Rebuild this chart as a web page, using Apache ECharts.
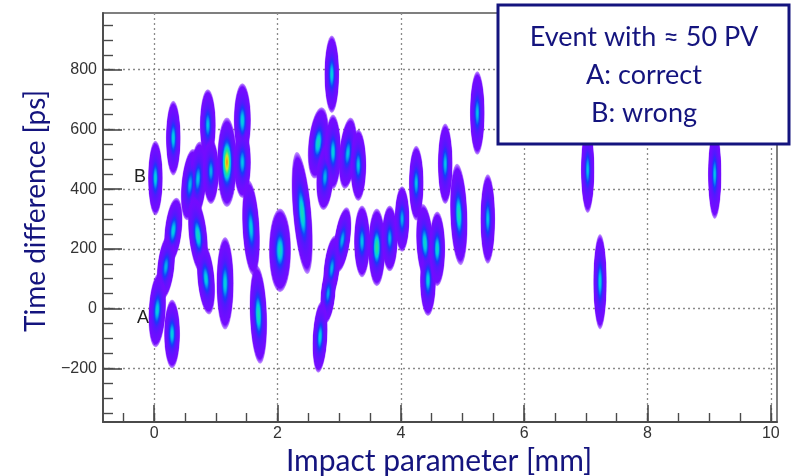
<!DOCTYPE html>
<html>
<head>
<meta charset="utf-8">
<script src="https://cdn.jsdelivr.net/npm/echarts@6/dist/echarts.min.js"></script>
<style>
  html, body { margin: 0; padding: 0; background: #fff; }
  #chart { width: 793px; height: 476px; }
</style>
</head>
<body>
<div id="chart"></div>
<script>
// Reconstructed vertex clusters: centre (impact parameter in mm, time difference in ps),
// half extent of each cluster, relative peak density and a small tilt in degrees.
const clusterX     = [0.02, 0.31, 0.31, 0.19, 0.05, 0.29, 0.58, 0.71, 0.87, 0.92, 1.18, 1.43, 1.43, 0.71, 0.84, 1.15, 1.57, 1.69, 2.04, 2.40, 2.88, 2.66, 2.77, 2.90, 3.14, 3.31, 3.05, 2.88, 2.82, 2.69, 3.37, 3.61, 3.82, 4.02, 4.25, 4.72, 5.24, 4.39, 4.44, 4.59, 4.94, 5.41, 7.03, 7.23, 9.09];
const clusterY     = [437, 571, 262, 140, -5, -85, 415, 435, 615, 460, 490, 630, 490, 245, 100, 85, 270, -20, 195, 320, 785, 555, 440, 525, 520, 480, 230, 135, 50, -95, 225, 205, 235, 300, 420, 485, 655, 220, 95, 200, 315, 300, 465, 90, 450];
const clusterHalfW = [0.12, 0.12, 0.14, 0.14, 0.14, 0.13, 0.14, 0.14, 0.13, 0.13, 0.16, 0.14, 0.14, 0.15, 0.14, 0.14, 0.14, 0.14, 0.18, 0.15, 0.12, 0.16, 0.14, 0.13, 0.14, 0.13, 0.13, 0.13, 0.12, 0.12, 0.13, 0.14, 0.13, 0.12, 0.12, 0.12, 0.12, 0.14, 0.13, 0.13, 0.14, 0.12, 0.11, 0.11, 0.11];
const clusterHalfH = [125, 125, 110, 110, 125, 115, 120, 125, 120, 110, 150, 125, 120, 130, 120, 155, 160, 165, 140, 205, 130, 120, 110, 125, 120, 120, 110, 110, 100, 120, 120, 130, 110, 110, 125, 135, 140, 130, 120, 125, 170, 150, 145, 160, 150];
const clusterPeak  = [0.55, 0.55, 0.55, 0.50, 0.55, 0.55, 0.50, 0.52, 0.52, 0.50, 0.90, 0.55, 0.52, 0.60, 0.55, 0.55, 0.55, 0.62, 0.60, 0.62, 0.55, 0.60, 0.50, 0.55, 0.52, 0.52, 0.50, 0.50, 0.48, 0.55, 0.52, 0.68, 0.50, 0.50, 0.52, 0.52, 0.52, 0.58, 0.55, 0.58, 0.62, 0.52, 0.52, 0.55, 0.52];
const clusterTilt  = [0, 0, 6, 6, 3, 0, 5, 3, 0, 0, 0, 0, 0, -6, -5, 0, -3, -2, 0, -5, 0, 6, 3, 0, 5, 0, 8, 6, 5, 3, 0, 0, 0, 0, 0, 0, 0, -3, 0, 0, -2, 0, 0, 0, 0];

// Axis ticks and labels
const xMajorTicks = [0, 2, 4, 6, 8, 10];
const xMinorTicks = [-0.5, 0, 0.5, 1, 1.5, 2, 2.5, 3, 3.5, 4, 4.5, 5, 5.5, 6, 6.5, 7, 7.5, 8, 8.5, 9, 9.5, 10];
const yMajorTicks = [-200, 0, 200, 400, 600, 800];
const yMinorTicks = [-350, -300, -250, -200, -150, -100, -50, 0, 50, 100, 150, 200, 250, 300, 350, 400, 450, 500, 550, 600, 650, 700, 750, 800, 850, 900, 950];

const xLabelTitle = 'Impact parameter [mm]';
const yLabelTitle = 'Time difference [ps]';
const boxLines = ['Event with \u2248 50 PV', 'A: correct', 'B: wrong'];

// Rainbow density palette (violet -> blue -> cyan -> green -> yellow -> red)
const palette = [
  [0.00, [118, 10, 255]],
  [0.22, [80, 25, 255]],
  [0.36, [20, 60, 250]],
  [0.52, [0, 200, 235]],
  [0.70, [40, 230, 140]],
  [0.84, [230, 230, 30]],
  [1.00, [255, 30, 0]]
];
function paletteColor(v, alpha) {
  v = Math.max(0, Math.min(1, v));
  for (let k = 1; k < palette.length; k++) {
    if (v <= palette[k][0]) {
      const a = palette[k - 1], b = palette[k];
      const f = (v - a[0]) / (b[0] - a[0]);
      const c = a[1].map((x, j) => Math.round(x + (b[1][j] - x) * f));
      return 'rgba(' + c.join(',') + ',' + alpha + ')';
    }
  }
  return 'rgba(255,30,0,' + alpha + ')';
}

// Radial fill of one cluster; pass 1 only keeps the dense core so that
// cores stay visible where neighbouring clusters overlap.
function clusterFill(peak, pass) {
  const stops = [];
  for (let s = 0; s <= 20; s++) {
    const t = s / 20;
    const v = peak * Math.exp(-4.2 * t * t);
    let alpha = 1;
    if (pass === 1) alpha = t < 0.35 ? 1 : Math.max(0, 1 - (t - 0.35) / 0.25);
    else if (t > 0.9) alpha = 1 - (t - 0.9) * 6;
    stops.push({ offset: t, color: paletteColor(v, alpha) });
  }
  return new echarts.graphic.RadialGradient(0.5, 0.5, 0.5, stops);
}

function makeRenderer(pass) {
  return function (params, api) {
    const c = api.coord([api.value(0), api.value(1)]);
    const s = api.size([api.value(2), api.value(3)]);
    return {
      type: 'circle',
      shape: { cx: 0, cy: 0, r: 10 },
      x: c[0], y: c[1],
      scaleX: s[0] / 10, scaleY: s[1] / 10,
      rotation: -api.value(5) * Math.PI / 180,
      style: { fill: clusterFill(api.value(4), pass) },
      silent: true
    };
  };
}

const clusterData = clusterX.map((x, i) => [x, clusterY[i], clusterHalfW[i], clusterHalfH[i], clusterPeak[i], clusterTilt[i]]);

const X_MIN = -0.83, X_MAX = 10.1, Y_MIN = -380, Y_MAX = 990;
const axisColor = '#4a4a4a';
const tickFont = { fontFamily: 'Liberation Sans, Arial, sans-serif', fontSize: 16, color: '#333' };
const navy = '#14147e';

const chart = echarts.init(document.getElementById('chart'), null, { renderer: 'canvas' });
chart.setOption({
  animation: false,
  backgroundColor: '#fff',
  grid: { left: 103, right: 16, top: 13, bottom: 54, show: true, borderColor: '#555', borderWidth: 1.5, backgroundColor: 'transparent' },
  xAxis: [
    {
      type: 'value', min: X_MIN, max: X_MAX, splitNumber: 5, position: 'bottom',
      axisLine: { show: true, onZero: false, lineStyle: { color: axisColor, width: 1.8 } },
      axisTick: { show: true, inside: true, length: 17, customValues: xMajorTicks, lineStyle: { color: axisColor, width: 1.6 } },
      axisLabel: Object.assign({ show: true, margin: 4, customValues: xMajorTicks }, tickFont),
      splitLine: { show: true, lineStyle: { color: '#8a8a8a', width: 1.3, type: [2, 3] } }
    },
    {
      type: 'value', min: X_MIN, max: X_MAX, position: 'bottom',
      axisLine: { show: false, onZero: false },
      axisTick: { show: true, inside: true, length: 9, customValues: xMinorTicks, lineStyle: { color: axisColor, width: 1.4 } },
      axisLabel: { show: false },
      splitLine: { show: false }
    }
  ],
  yAxis: [
    {
      type: 'value', min: Y_MIN, max: Y_MAX, splitNumber: 7, position: 'left',
      axisLine: { show: true, onZero: false, lineStyle: { color: axisColor, width: 1.8 } },
      axisTick: { show: true, inside: true, length: 19, customValues: yMajorTicks, lineStyle: { color: axisColor, width: 1.6 } },
      axisLabel: Object.assign({ show: true, margin: 6, customValues: yMajorTicks, formatter: v => (v < 0 ? '\u2212' + Math.abs(v) : String(v)) }, tickFont),
      splitLine: { show: true, lineStyle: { color: '#8a8a8a', width: 1.3, type: [2, 3] } }
    },
    {
      type: 'value', min: Y_MIN, max: Y_MAX, position: 'left',
      axisLine: { show: false, onZero: false },
      axisTick: { show: true, inside: true, length: 10, customValues: yMinorTicks, lineStyle: { color: axisColor, width: 1.4 } },
      axisLabel: { show: false },
      splitLine: { show: false }
    }
  ],
  series: [0, 1].map(pass => ({
    type: 'custom',
    xAxisIndex: 0, yAxisIndex: 0,
    renderItem: makeRenderer(pass),
    data: clusterData,
    encode: { x: 0, y: 1 },
    clip: true,
    z: 2 + pass,
    silent: true
  })),
  graphic: [
    { type: 'text', x: 140, y: 177, style: { text: 'B', font: '18px Liberation Sans, Arial', fill: '#222', align: 'center', verticalAlign: 'middle' }, z: 50 },
    { type: 'text', x: 143, y: 318, style: { text: 'A', font: '18px Liberation Sans, Arial', fill: '#222', align: 'center', verticalAlign: 'middle' }, z: 50 },
    { type: 'text', x: 439, y: 461, style: { text: xLabelTitle, font: '30px Lato, sans-serif', fill: navy, align: 'center', verticalAlign: 'middle' }, z: 50 },
    { type: 'text', x: 36, y: 211, rotation: Math.PI / 2, style: { text: yLabelTitle, font: '28px Lato, sans-serif', fill: navy, align: 'center', verticalAlign: 'middle' }, z: 50 },
    { type: 'rect', shape: { x: 498, y: 5, width: 291, height: 139 }, style: { fill: '#fff', stroke: navy, lineWidth: 3 }, z: 60 },
    { type: 'text', x: 644, y: 37, style: { text: boxLines[0], font: '27px Lato, sans-serif', fill: navy, align: 'center', verticalAlign: 'middle' }, z: 61 },
    { type: 'text', x: 644, y: 75, style: { text: boxLines[1], font: '27px Lato, sans-serif', fill: navy, align: 'center', verticalAlign: 'middle' }, z: 61 },
    { type: 'text', x: 644, y: 113, style: { text: boxLines[2], font: '27px Lato, sans-serif', fill: navy, align: 'center', verticalAlign: 'middle' }, z: 61 }
  ]
});
</script>
</body>
</html>
